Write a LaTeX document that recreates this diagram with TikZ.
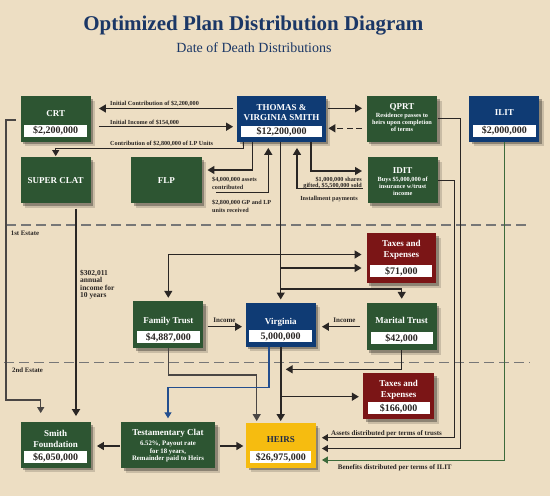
\documentclass[tikz,border=0pt]{standalone}
\usepackage{fontspec}
\setmainfont{Liberation Serif}
\usetikzlibrary{arrows.meta,shadows}
\definecolor{bg}{HTML}{EDDEC3}
\definecolor{grn}{HTML}{2D5532}
\definecolor{nvy}{HTML}{0F3B74}
\definecolor{dred}{HTML}{7B1516}
\definecolor{ylw}{HTML}{F6BC10}
\definecolor{ttlc}{HTML}{1B3766}
\definecolor{ink}{HTML}{2A2624}
\definecolor{gryl}{HTML}{4A4644}
\definecolor{sepc}{HTML}{777777}
\definecolor{grnl}{HTML}{3C6A3B}
\definecolor{blul}{HTML}{234E8E}
\definecolor{heirc}{HTML}{1E2A48}
\begin{document}
\begin{tikzpicture}[x=1pt,y=-1pt,
  box/.style={inner sep=0pt,
    drop shadow={shadow xshift=2.5pt,shadow yshift=-2.5pt,opacity=.3,fill=black},
    drop shadow={shadow xshift=4.5pt,shadow yshift=-4.5pt,opacity=.15,fill=black}},
  ttl/.style={text=white,font=\bfseries\fontsize{9}{10}\selectfont,inner sep=0pt,anchor=base},
  val/.style={fill=white,text=ink,font=\bfseries\fontsize{10}{11}\selectfont,inner sep=0pt,
    minimum width=63pt,minimum height=12pt,text height=7pt,text depth=1pt},
  sml/.style={text=white,font=\bfseries\fontsize{6.3}{7}\selectfont,inner sep=0pt,anchor=base},
  tsml/.style={text=white,font=\bfseries\fontsize{6.8}{7.5}\selectfont,inner sep=0pt,anchor=base},
  lbl/.style={text=ink,font=\bfseries\fontsize{6.2}{8}\selectfont,inner sep=0pt},
  blbl/.style={text=ink,font=\bfseries\fontsize{7}{8}\selectfont,inner sep=0pt},
  ln/.style={draw=ink,line width=1.4pt},
  thk/.style={draw=ink,line width=2.2pt},
  thn/.style={draw=ink,line width=1pt},
  arr/.style={-{Triangle[length=7pt,width=8pt]}},
  sarr/.style={-{Triangle[length=6pt,width=7pt]}}
]
\fill[bg] (0,0) rectangle (550,496);
\useasboundingbox (0,0) rectangle (550,496);

% title
\node[font=\bfseries\fontsize{21}{24}\selectfont,text=ttlc,anchor=base,inner sep=0pt] (title) at (253.3,30) {Optimized Plan Distribution Diagram};
\node[font=\fontsize{14}{16}\selectfont,text=ttlc,anchor=base,inner sep=0pt] (sub) at (254,52.7) {Date of Death Distributions};

% separators
\coordinate (s1a) at (6,225); \coordinate (s1b) at (530,225);
\coordinate (s2a) at (4,362.7); \coordinate (s2b) at (530,362.7);
\draw[sepc,line width=1.4pt,dash pattern=on 10pt off 5pt] (s1a) -- (s1b);
\draw[sepc,line width=1.4pt,dash pattern=on 10pt off 5pt] (s2a) -- (s2b);
\node[blbl,anchor=base west,font=\bfseries\fontsize{6.8}{8}\selectfont] (est1) at (10.7,235) {1st Estate};
\node[blbl,anchor=base west,font=\bfseries\fontsize{6.8}{8}\selectfont] (est2) at (12,372.5) {2nd Estate};

% ---------- boxes ----------
\node[box,fill=grn,minimum width=70pt,minimum height=45.7pt] (crt) at (55.7,118.85) {};
\node[ttl] (crtt) at (55.7,116) {CRT};
\node[val] (crtv) at (55.7,130.8) {\$2,200,000};

\node[box,fill=nvy,minimum width=88.4pt,minimum height=45.7pt] (thomas) at (281.5,118.85) {};
\node[ttl] (thomast1) at (281.5,110) {THOMAS \&};
\node[ttl] (thomast2) at (281.5,120) {VIRGINIA SMITH};
\node[val,minimum width=81pt,minimum height=11.5pt] (thomasv) at (281.5,131.3) {\$12,200,000};

\node[box,fill=grn,minimum width=70.6pt,minimum height=45.7pt] (qprt) at (402,118.85) {};
\node[ttl] (qprtt) at (402,109) {QPRT};
\node[sml] (qprts1) at (402,117.5) {Residence passes to};
\node[sml] (qprts2) at (402,124.5) {heirs upon completion};
\node[sml] (qprts3) at (402,131.5) {of terms};

\node[box,fill=nvy,minimum width=70pt,minimum height=45.7pt] (ilit) at (504.3,118.85) {};
\node[ttl] (ilitt) at (504.3,115.5) {ILIT};
\node[val] (ilitv) at (504.3,130.8) {\$2,000,000};

\node[box,fill=grn,minimum width=70pt,minimum height=46pt] (sclat) at (55.7,180.3) {};
\node[ttl] (sclatt) at (55.7,183.5) {SUPER CLAT};

\node[box,fill=grn,minimum width=70.7pt,minimum height=46pt] (flp) at (166.4,180.2) {};
\node[ttl] (flpt) at (166.4,183.5) {FLP};

\node[box,fill=grn,minimum width=70pt,minimum height=46pt] (idit) at (402.7,180.3) {};
\node[ttl] (iditt) at (402.7,173.5) {IDIT};
\node[sml] (idits1) at (402.7,181) {Buys \$5,000,000 of};
\node[sml] (idits2) at (402.7,188) {insurance w/trust};
\node[sml] (idits3) at (402.7,195) {income};

\node[box,fill=dred,minimum width=69.3pt,minimum height=50pt] (taxa) at (401.4,258.3) {};
\node[ttl] (taxat1) at (401.4,246.5) {Taxes and};
\node[ttl] (taxat2) at (401.4,257.5) {Expenses};
\node[val,minimum width=62pt] (taxav) at (401.4,271) {\$71,000};

\node[box,fill=grn,minimum width=70pt,minimum height=47pt] (famt) at (168.3,324.5) {};
\node[ttl] (famtt) at (168.3,323) {Family Trust};
\node[val] (famtv) at (168.3,337) {\$4,887,000};

\node[box,fill=nvy,minimum width=70pt,minimum height=44pt] (virg) at (280.7,324.7) {};
\node[ttl] (virgt) at (280.7,324.5) {Virginia};
\node[val] (virgv) at (280.7,336) {5,000,000};

\node[box,fill=grn,minimum width=70pt,minimum height=47pt] (mart) at (401.7,326.5) {};
\node[ttl] (martt) at (401.7,323.5) {Marital Trust};
\node[val,minimum width=62pt] (martv) at (401.7,338) {\$42,000};

\node[box,fill=dred,minimum width=71.3pt,minimum height=45.7pt] (taxb) at (398.7,396.2) {};
\node[ttl] (taxbt1) at (398.7,386) {Taxes and};
\node[ttl] (taxbt2) at (398.7,397) {Expenses};
\node[val,minimum width=62pt] (taxbv) at (398.7,408) {\$166,000};

\node[box,fill=grn,minimum width=70pt,minimum height=45.4pt] (smith) at (55.7,445) {};
\node[ttl] (smitht1) at (55.7,436) {Smith};
\node[ttl] (smitht2) at (55.7,447.5) {Foundation};
\node[val] (smithv) at (55.7,457.3) {\$6,050,000};

\node[box,fill=grn,minimum width=94pt,minimum height=46pt] (testc) at (168,445) {};
\node[ttl] (testct) at (168,435) {Testamentary Clat};
\node[tsml] (testcs1) at (168,445.5) {6.52\%, Payout rate};
\node[tsml] (testcs2) at (168,453) {for 18 years,};
\node[tsml] (testcs3) at (168,460.5) {Remainder paid to Heirs};

\node[box,fill=ylw,minimum width=69.7pt,minimum height=44.4pt] (heirs) at (280.9,445.5) {};
\node[ttl,text=heirc] (heirst) at (280.9,442.5) {HEIRS};
\node[val,minimum width=61pt] (heirsv) at (280.9,457.2) {\$26,975,000};

% ---------- connectors ----------
% CRT <-> Thomas
\draw[ln,arr,shorten <=4pt,shorten >=8pt] (thomas.west |- 0,108.5) -- (crt.east |- 0,108.5);
\draw[ln,arr,shorten <=8pt,shorten >=4pt] (crt.east |- 0,126.7) -- (thomas.west |- 0,126.7);
\node[lbl,anchor=base west] (l1) at (110,105) {Initial Contribution of \$2,200,000};
\node[lbl,anchor=base west] (l2) at (110,124.5) {Initial Income of \$154,000};

% Thomas -> SUPER CLAT
\draw[thn,sarr,shorten >=1pt] (243.3,0 |- thomas.south) -- (243.3,148) -| (sclat.north);
\node[lbl,anchor=base west] (l3) at (110,145) {Contribution of \$2,800,000 of LP Units};

% Thomas <-> FLP
\draw[ln,arr,shorten >=5.5pt] (252.3,0 |- thomas.south) |- (flp.east |- 0,170);
\coordinate (flpret) at (216,192.3);
\draw[ln,arr,shorten >=6pt] (flpret) -| (268.3,0 |- thomas.south);
\node[lbl,anchor=base west] (l4a) at (212,181) {\$4,000,000 assets};
\node[lbl,anchor=base west] (l4b) at (212,189) {contributed};
\node[lbl,anchor=base west] (l5a) at (212,204.5) {\$2,800,000 GP and LP};
\node[lbl,anchor=base west] (l5b) at (212,212) {units received};

% Thomas <-> IDIT
\draw[ln,arr,shorten >=5.5pt] (311,0 |- thomas.south) |- (idit.west |- 0,171);
\draw[ln,arr,shorten <=5pt,shorten >=6pt] (idit.west |- 0,188.7) -| (297,0 |- thomas.south);
\node[lbl,anchor=base east] (l6a) at (362,181) {\$1,000,000 shares};
\node[lbl,anchor=base east] (l6b) at (362,187) {gifted, \$5,500,000 sold};
\node[lbl,anchor=base] (l7) at (329,200) {Installment payments};

% Thomas <-> QPRT
\draw[ln,arr,shorten <=2pt,shorten >=4.5pt] (thomas.east |- 0,108.3) -- (qprt.west |- 0,108.3);
\draw[ln,arr,dash pattern=on 6pt off 3.5pt,shorten <=4.5pt,shorten >=2.5pt] (qprt.west |- 0,128.3) -- (thomas.east |- 0,128.3);

% trunk Thomas -> Virginia
\draw[ln,arr,shorten >=3pt] (virg.north |- thomas.south) -- (virg.north);
\draw[ln,{Triangle[length=7pt,width=8pt]}-{Triangle[length=7pt,width=8pt]},shorten <=3pt,shorten >=5pt] (famt.north) |- (taxa.west |- 0,254.5);
\draw[ln,arr,shorten >=5pt] (virg.north |- 0,268) -- (taxa.west |- 0,268);
\draw[ln,arr,shorten >=4pt] (virg.north |- 0,289) -| (mart.north);

% income arrows
\draw[ln,arr,shorten <=4pt,shorten >=3.5pt] (famt.east |- 0,326.7) -- (virg.west |- 0,326.7);
\draw[ln,arr,shorten <=6.5pt,shorten >=6pt] (mart.west |- 0,326.7) -- (virg.east |- 0,326.7);
\node[blbl,anchor=base] (inc1) at (224.5,322) {Income};
\node[blbl,anchor=base] (inc2) at (344.5,322) {Income};

% Virginia -> HEIRS
\draw[thk,arr,shorten >=2pt] (virg.south) -- (virg.south |- heirs.north);
\draw[ln,arr,shorten >=4pt] (virg.south |- 0,396.7) -- (taxb.west |- 0,396.7);
\draw[ln,arr,shorten >=5pt] (mart.south) |- (virg.south |- 0,369.3);

% Family Trust -> HEIRS
\draw[draw=gryl,line width=1.3pt,arr,shorten >=2pt] (famt.south) |- (256.7,375) -- (256.7,0 |- heirs.north);
% Virginia -> Testamentary Clat
\draw[draw=blul,line width=1.1pt,sarr,shorten >=3.5pt] (269,0 |- virg.south) |- (testc.north |- 0,387.3) -- (testc.north);

% Testamentary Clat -> Smith / HEIRS
\draw[ln,arr,shorten <=1pt,shorten >=6pt] (testc.west |- 0,446) -- (smith.east |- 0,446);
\draw[ln,arr,shorten <=5pt,shorten >=2.5pt] (testc.east |- 0,446) -- (heirs.west |- 0,446);

% CRT -> Smith Foundation
\draw[draw=gryl,line width=1.3pt,sarr,shorten <=5pt,shorten >=9pt] (crt.west |- 0,120) -| (6,400) -| (40.7,0 |- smith.north);

% SUPER CLAT -> Smith Foundation
\draw[thk,arr,shorten <=5pt,shorten >=6pt] (76,0 |- sclat.south) -- (76,0 |- smith.north);
\node[blbl,anchor=base west,font=\bfseries\fontsize{7.5}{8}\selectfont] (sc1) at (80,275) {\$302,011};
\node[blbl,anchor=base west,font=\bfseries\fontsize{7.5}{8}\selectfont] (sc2) at (80,282.5) {annual};
\node[blbl,anchor=base west,font=\bfseries\fontsize{7.5}{8}\selectfont] (sc3) at (80,290) {income for};
\node[blbl,anchor=base west,font=\bfseries\fontsize{7.5}{8}\selectfont] (sc4) at (80,297.5) {10 years};

% right side to HEIRS
\draw[thn,sarr,shorten >=6pt] (qprt.east |- 0,118.3) -| (460.7,448.5) -- (heirs.east |- 0,448.5);
\draw[thn,sarr,shorten >=6pt] (idit.east |- 0,180) -| (454,437.7) -- (heirs.east |- 0,437.7);
\draw[draw=grnl,line width=1pt,sarr,shorten >=6pt] (ilit.south) |- (heirs.east |- 0,460);
\node[blbl,anchor=base west] (l8) at (331,435.5) {Assets distributed per terms of trusts};
\node[blbl,anchor=base west] (l9) at (337.7,469) {Benefits distributed per terms of ILIT};
\end{tikzpicture}
\end{document}
